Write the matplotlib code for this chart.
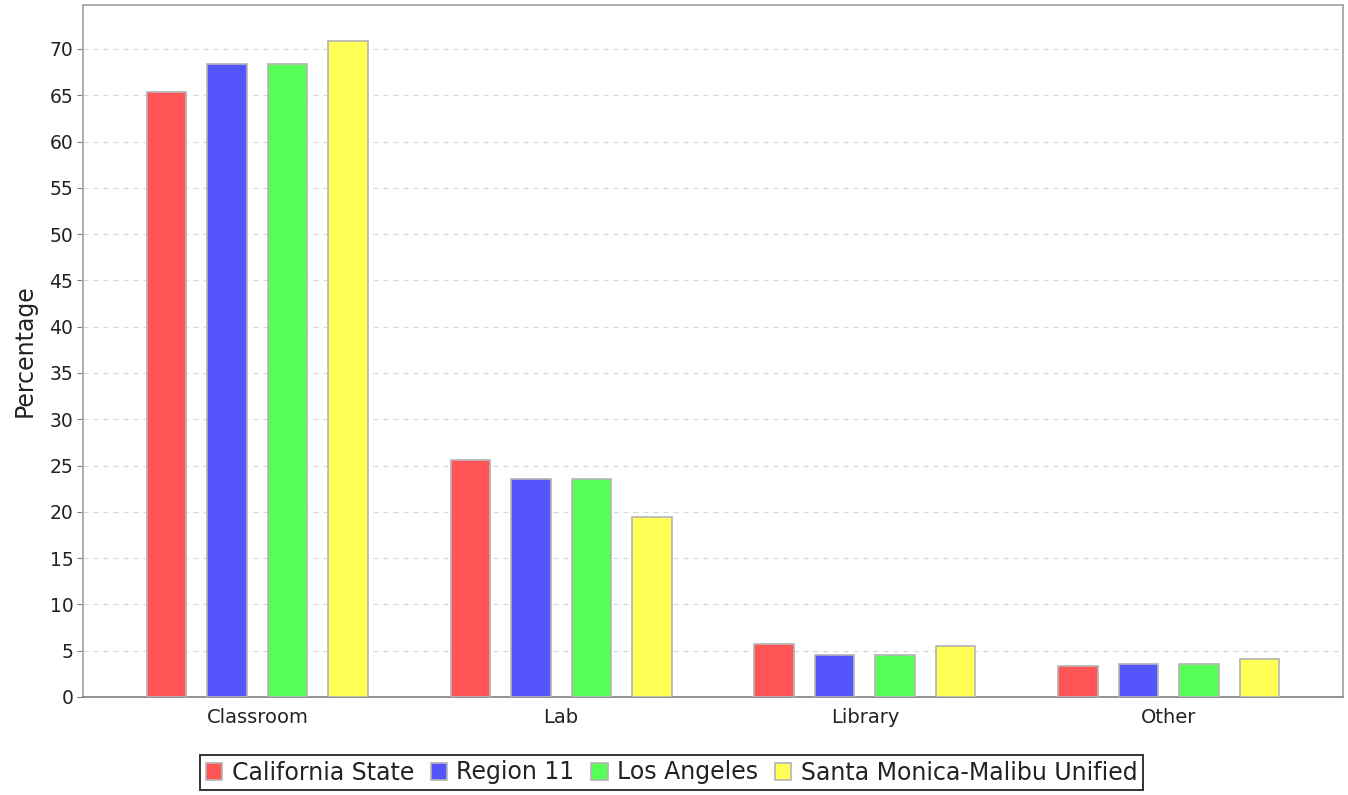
import matplotlib
matplotlib.use("Agg")
import matplotlib.pyplot as plt
import numpy as np

categories = ["Classroom", "Lab", "Library", "Other"]
series_names = ["California State", "Region 11", "Los Angeles", "Santa Monica-Malibu Unified"]
california = [65.4, 25.6, 5.7, 3.4]
region11 = [68.4, 23.5, 4.5, 3.6]
los_angeles = [68.4, 23.5, 4.5, 3.6]
santa_monica = [70.9, 19.4, 5.5, 4.1]
series_values = [california, region11, los_angeles, santa_monica]
colors = ["#FF5555", "#5555FF", "#55FF55", "#FFFF55"]
yticks = list(range(0, 75, 5))

W, H = 1348, 795
fig = plt.figure(figsize=(W / 100, H / 100), dpi=100)
ax = fig.add_axes([83 / W, (H - 697) / H, 1260 / W, 692 / H])

x = np.arange(len(categories))
bw = 0.13
step = 0.199
for i, (name, vals, c) in enumerate(zip(series_names, series_values, colors)):
    ax.bar(x + (i - 1.5) * step, vals, width=bw, color=c, edgecolor="#b4b4b4",
           linewidth=1.2, label=name, zorder=3)

ax.set_xlim(-0.574, 3.574)
ax.set_ylim(0, 74.75)
ax.set_yticks(yticks)
ax.set_xticks(x)
ax.set_xticklabels(categories)
ax.yaxis.grid(True, color="#d8d8d8", linestyle=(0, (4, 4)), linewidth=0.9, zorder=0)
ax.xaxis.grid(False)
for s in ax.spines.values():
    s.set_color("#a0a0a0")
    s.set_linewidth(1.2)
ax.spines["bottom"].set_color("#808080")
ax.tick_params(axis="y", length=4, color="#808080", labelsize=13.5, pad=3, labelcolor="#222222")
ax.tick_params(axis="x", length=0, labelsize=14, pad=8, labelcolor="#222222")
ax.set_ylabel("Percentage", fontsize=17, labelpad=9, color="#222222")

leg = fig.legend(loc="center", bbox_to_anchor=(671.5 / W, 1 - 772.5 / H), ncol=4,
                 fontsize=17, frameon=True, fancybox=False, handlelength=0.7,
                 handleheight=0.7, handletextpad=0.4, columnspacing=0.7,
                 borderpad=0.25, borderaxespad=0)
leg.get_frame().set_edgecolor("black")
leg.get_frame().set_linewidth(1.4)
for t in leg.get_texts():
    t.set_color("#222222")

fig.savefig("out.png", dpi=100)
